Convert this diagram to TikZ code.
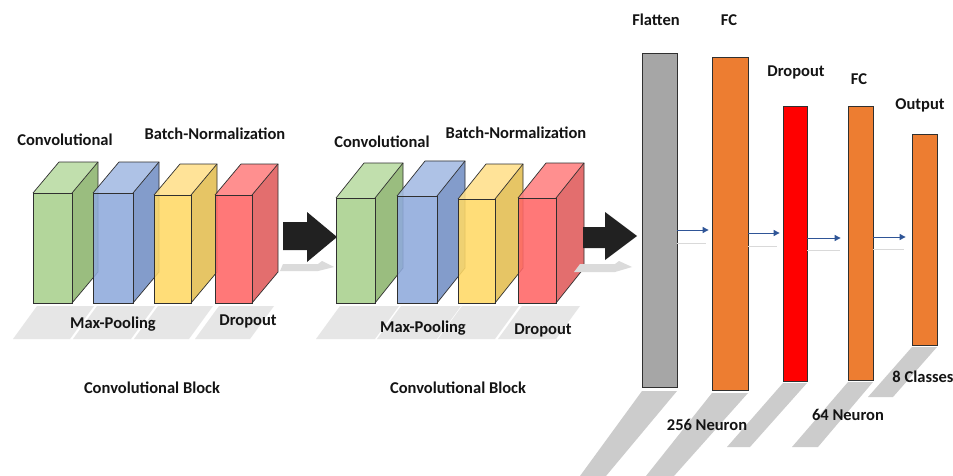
\documentclass[tikz,border=0pt]{standalone}
\usepackage{fontspec}
\setmainfont{Carlito}
\usetikzlibrary{arrows.meta}

% colours of the layers
\definecolor{convF}{HTML}{A9D18E}\definecolor{convS}{HTML}{8DB46E}\definecolor{convT}{HTML}{B9DBA2}
\definecolor{poolF}{HTML}{8FAADC}\definecolor{poolS}{HTML}{728FC4}\definecolor{poolT}{HTML}{A3BAE3}
\definecolor{bnF}{HTML}{FFD966}\definecolor{bnS}{HTML}{E3BD50}\definecolor{bnT}{HTML}{FFE08A}
\definecolor{dropF}{HTML}{FF6666}\definecolor{dropS}{HTML}{E05A5A}\definecolor{dropT}{HTML}{FF8080}
\definecolor{flatC}{HTML}{A6A6A6}
\definecolor{fcC}{HTML}{ED7D31}
\definecolor{redC}{HTML}{FF0000}
\definecolor{linkC}{HTML}{2F5597}
\definecolor{edgeC}{HTML}{303030}
\definecolor{txtC}{HTML}{141414}

% one layer drawn as a box: left, right, top, bottom, depth x, depth y, face colours
\newcommand\layerbox[9]{%
  \fill[#7,fill opacity=0.88] (#1,#3) rectangle (#2,#4);
  \fill[#9,fill opacity=0.88] (#1,#3) -- (#1+#5,#3+#6) -- (#2+#5,#3+#6) -- (#2,#3) -- cycle;
  \fill[#8,fill opacity=0.88] (#2,#3) -- (#2+#5,#3+#6) -- (#2+#5,#4+#6) -- (#2,#4) -- cycle;
  \draw[boxline] (#1,#3) rectangle (#2,#4);
  \draw[boxline] (#1,#3) -- (#1+#5,#3+#6) -- (#2+#5,#3+#6) -- (#2+#5,#4+#6) -- (#2,#4);
  \draw[boxline] (#2,#3) -- (#2+#5,#3+#6);
}
% soft floor shadow under a layer box: left, right, depth x
\newcommand\floorshade[3]{%
  \fill[black!13,fill opacity=0.75] (#1+4,306) -- (#2+#3-4,306) -- (#2+#3-28,339) -- (#1-20,339) -- cycle;
}

\tikzset{
  boxline/.style={draw=edgeC,line width=0.7pt},
  lbl/.style={font=\fontsize{16.5}{19}\selectfont\bfseries,text=txtC,inner sep=0pt},
  bar/.style={draw=edgeC,line width=0.8pt,minimum width=#1,inner sep=0pt},
  bigarrow/.style={fill=black!87},
  link/.style={draw=linkC,line width=0.9pt,-{Triangle[length=6pt,width=6pt]}},
  linkshade/.style={draw=black!15,line width=0.8pt},
  barshade/.style={fill=black!20},
}

\begin{document}
\begin{tikzpicture}[x=1pt,y=-1pt]
\useasboundingbox (0,0) rectangle (953,476);
\fill[white] (0,0) rectangle (953,476);

% ---------- first convolutional block ----------
\floorshade{33}{72}{26}
\floorshade{93}{133}{26}
\floorshade{154}{191}{26}
\floorshade{215}{252}{26}
\layerbox{33}{72}{193}{303}{26}{-31}{convF}{convS}{convT}
\layerbox{93}{133}{193}{303}{26}{-31}{poolF}{poolS}{poolT}
\layerbox{154}{191}{195}{303}{26}{-31}{bnF}{bnS}{bnT}
\layerbox{215}{252}{195}{303}{26}{-31}{dropF}{dropS}{dropT}

\node[lbl] (c1conv) at (65,140) {Convolutional};
\node[lbl] (c1bn) at (215,134) {Batch-Normalization};
\node[lbl] (c1pool) at (113,324) {Max-Pooling};
\node[lbl] (c1drop) at (248,321) {Dropout};
\node[lbl] (c1name) at (152,388) {Convolutional Block};

% block arrow into the second block
\fill[black!14] (283,264) -- (318,264) -- (322,261) -- (334,267) -- (318,271) -- (280,271) -- cycle;
\fill[bigarrow] (283,222) -- (307,222) -- (307,212) -- (337,237) -- (307,262) -- (307,250) -- (283,250) -- cycle;

% ---------- second convolutional block ----------
\floorshade{336}{375}{28}
\floorshade{397}{437}{28}
\floorshade{458}{495}{28}
\floorshade{518}{556}{28}
\layerbox{336}{375}{198}{303}{28}{-35}{convF}{convS}{convT}
\layerbox{397}{437}{196}{303}{28}{-35}{poolF}{poolS}{poolT}
\layerbox{458}{495}{199}{303}{28}{-35}{bnF}{bnS}{bnT}
\layerbox{518}{556}{198}{303}{28}{-35}{dropF}{dropS}{dropT}

\node[lbl] (c2conv) at (382,142) {Convolutional};
\node[lbl] (c2bn) at (516,133) {Batch-Normalization};
\node[lbl] (c2pool) at (423,328) {Max-Pooling};
\node[lbl] (c2drop) at (543,330) {Dropout};
\node[lbl] (c2name) at (458,388) {Convolutional Block};

% block arrow into the dense part
\fill[black!14] (580,264) -- (615,264) -- (619,261) -- (632,267) -- (615,272) -- (574,272) -- cycle;
\fill[bigarrow] (583,227) -- (605,227) -- (605,212) -- (637,236) -- (605,260) -- (605,248) -- (583,248) -- cycle;

% ---------- dense part ----------
% floor shadows of the bars
\fill[barshade] (642,391) -- (677,391) -- (606,476) -- (580,476) -- cycle;
\fill[barshade] (712,393) -- (748,393) -- (674,476) -- (646,476) -- cycle;
\fill[barshade] (783,383) -- (807,383) -- (750,447) -- (727,447) -- cycle;
\fill[barshade] (848,382) -- (873,382) -- (818,447) -- (792,447) -- cycle;
\fill[barshade] (912,347) -- (937,347) -- (893,397) -- (868,397) -- cycle;

\node[bar=35pt,fill=flatC,minimum height=334pt] (flat) at (659.5,220) {};
\node[bar=36pt,fill=fcC,minimum height=333pt] (fc1) at (730,223.5) {};
\node[bar=24pt,fill=redC,minimum height=275pt] (drop) at (795,243.5) {};
\node[bar=25pt,fill=fcC,minimum height=274pt] (fc2) at (860.5,243) {};
\node[bar=25pt,fill=fcC,minimum height=211pt] (out) at (924.5,239.5) {};

% links between the dense layers, with their faint reflections
\draw[linkshade] (flat.east |- 0,243) -- ([xshift=-6pt]fc1.west |- 0,243);
\draw[linkshade] (fc1.east |- 0,246) -- ([xshift=-6pt]drop.west |- 0,246);
\draw[linkshade] (drop.east |- 0,250) -- ([xshift=-8pt]fc2.west |- 0,250);
\draw[linkshade] (fc2.east |- 0,249) -- ([xshift=-8pt]out.west |- 0,249);
\draw[link] (flat.east |- 0,230) -- ([xshift=-3pt]fc1.west |- 0,230);
\draw[link] (fc1.east |- 0,233) -- ([xshift=-3pt]drop.west |- 0,233);
\draw[link] (drop.east |- 0,238) -- ([xshift=-7pt]fc2.west |- 0,238);
\draw[link] (fc2.east |- 0,237) -- ([xshift=-6pt]out.west |- 0,237);

\node[lbl] (flatlbl) at (656,20) {Flatten};
\node[lbl] (fc1lbl) at (729,20) {FC};
\node[lbl] (droplbl) at (796,72) {Dropout};
\node[lbl] (fc2lbl) at (859,79) {FC};
\node[lbl] (outlbl) at (920,105) {Output};
\node[lbl] (classes) at (923,377) {8 Classes};
\node[lbl] (n256) at (707,425) {256 Neuron};
\node[lbl] (n64) at (848,415) {64 Neuron};
\end{tikzpicture}
\end{document}
